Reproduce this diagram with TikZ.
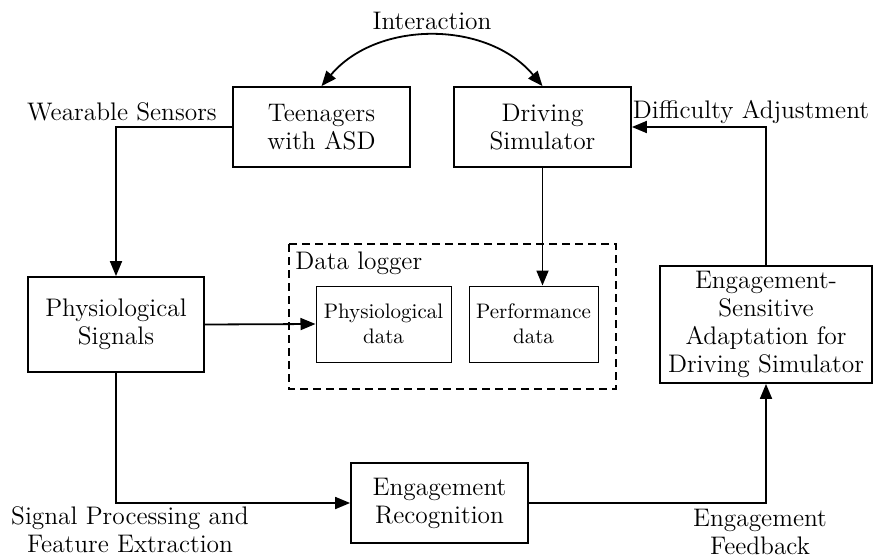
\documentclass[tikz,border=0pt]{standalone}
\usetikzlibrary{arrows.meta,positioning}

\begin{document}
\begin{tikzpicture}[x=0.5pt, y=-0.5pt,
    block/.style={draw, line width=0.9pt, align=center, font=\fontsize{12.7}{14}\selectfont,
                  inner sep=0pt},
    datablock/.style={draw, line width=0.5pt, align=center, font=\fontsize{10.5}{12.5}\selectfont,
                  inner sep=0pt},
    lbl/.style={align=center, font=\fontsize{12.7}{14}\selectfont, inner sep=0pt},
    flow/.style={line width=0.9pt, -{Triangle[length=7.5pt, width=6pt]}}]
    \useasboundingbox (0,0) rectangle (873,557);
    % main blocks
    \node [block, minimum width=88.5pt, minimum height=40pt] (teen) at (321.5,127) {Teenagers\\with ASD};
    \node [block, minimum width=88.5pt, minimum height=40pt] (sim) at (542.5,127) {Driving\\Simulator};
    \node [block, minimum width=88pt, minimum height=47.5pt] (phys) at (116,324.5) {Physiological\\Signals};
    \node [block, minimum width=106pt, minimum height=58.5pt] (adapt) at (766,324.5)
        {Engagement-\\Sensitive\\Adaptation for\\Driving Simulator};
    \node [block, minimum width=88.5pt, minimum height=40pt] (recog) at (439.5,503) {Engagement\\Recognition};
    % data logger
    \draw [line width=0.9pt, dash pattern=on 4pt off 2.5pt] (289,244) coordinate (L1) rectangle (616,389);
    \node [lbl, anchor=west] (logger) at (295,263) {Data logger};
    \node [datablock, minimum width=67.5pt, minimum height=38pt] (pdata) at (383.5,324) {Physiological\\data};
    \node [datablock, minimum width=64.5pt, minimum height=38pt] (perf) at (533.5,324) {Performance\\data};
    % connectors
    \draw [line width=0.9pt, {Triangle[length=7.5pt, width=6pt]}-{Triangle[length=7.5pt, width=6pt]}]
        (teen.north) to [bend left=50] node [lbl, above=3pt] (inter) {Interaction} (sim.north);
    \draw [flow] (teen.west) -| (phys.north);
    \draw [flow] (phys.east) -- (pdata.west);
    \draw [flow] (sim.south) -- (sim.south |- perf.north);
    \draw [flow] (phys.south) |- (recog.west);
    \draw [flow] (recog.east) -| (adapt.south);
    \draw [flow] (adapt.north) |- (sim.east);
    % labels
    \node [lbl] (wear) at (122,112) {Wearable Sensors};
    \node [lbl] (diff) at (751,112) {Difficulty Adjustment};
    \node [lbl] (sigproc) at (130,530) {Signal Processing and\\Feature Extraction};
    \node [lbl] (feedback) at (760,532) {Engagement\\Feedback};
\end{tikzpicture}
\end{document}
